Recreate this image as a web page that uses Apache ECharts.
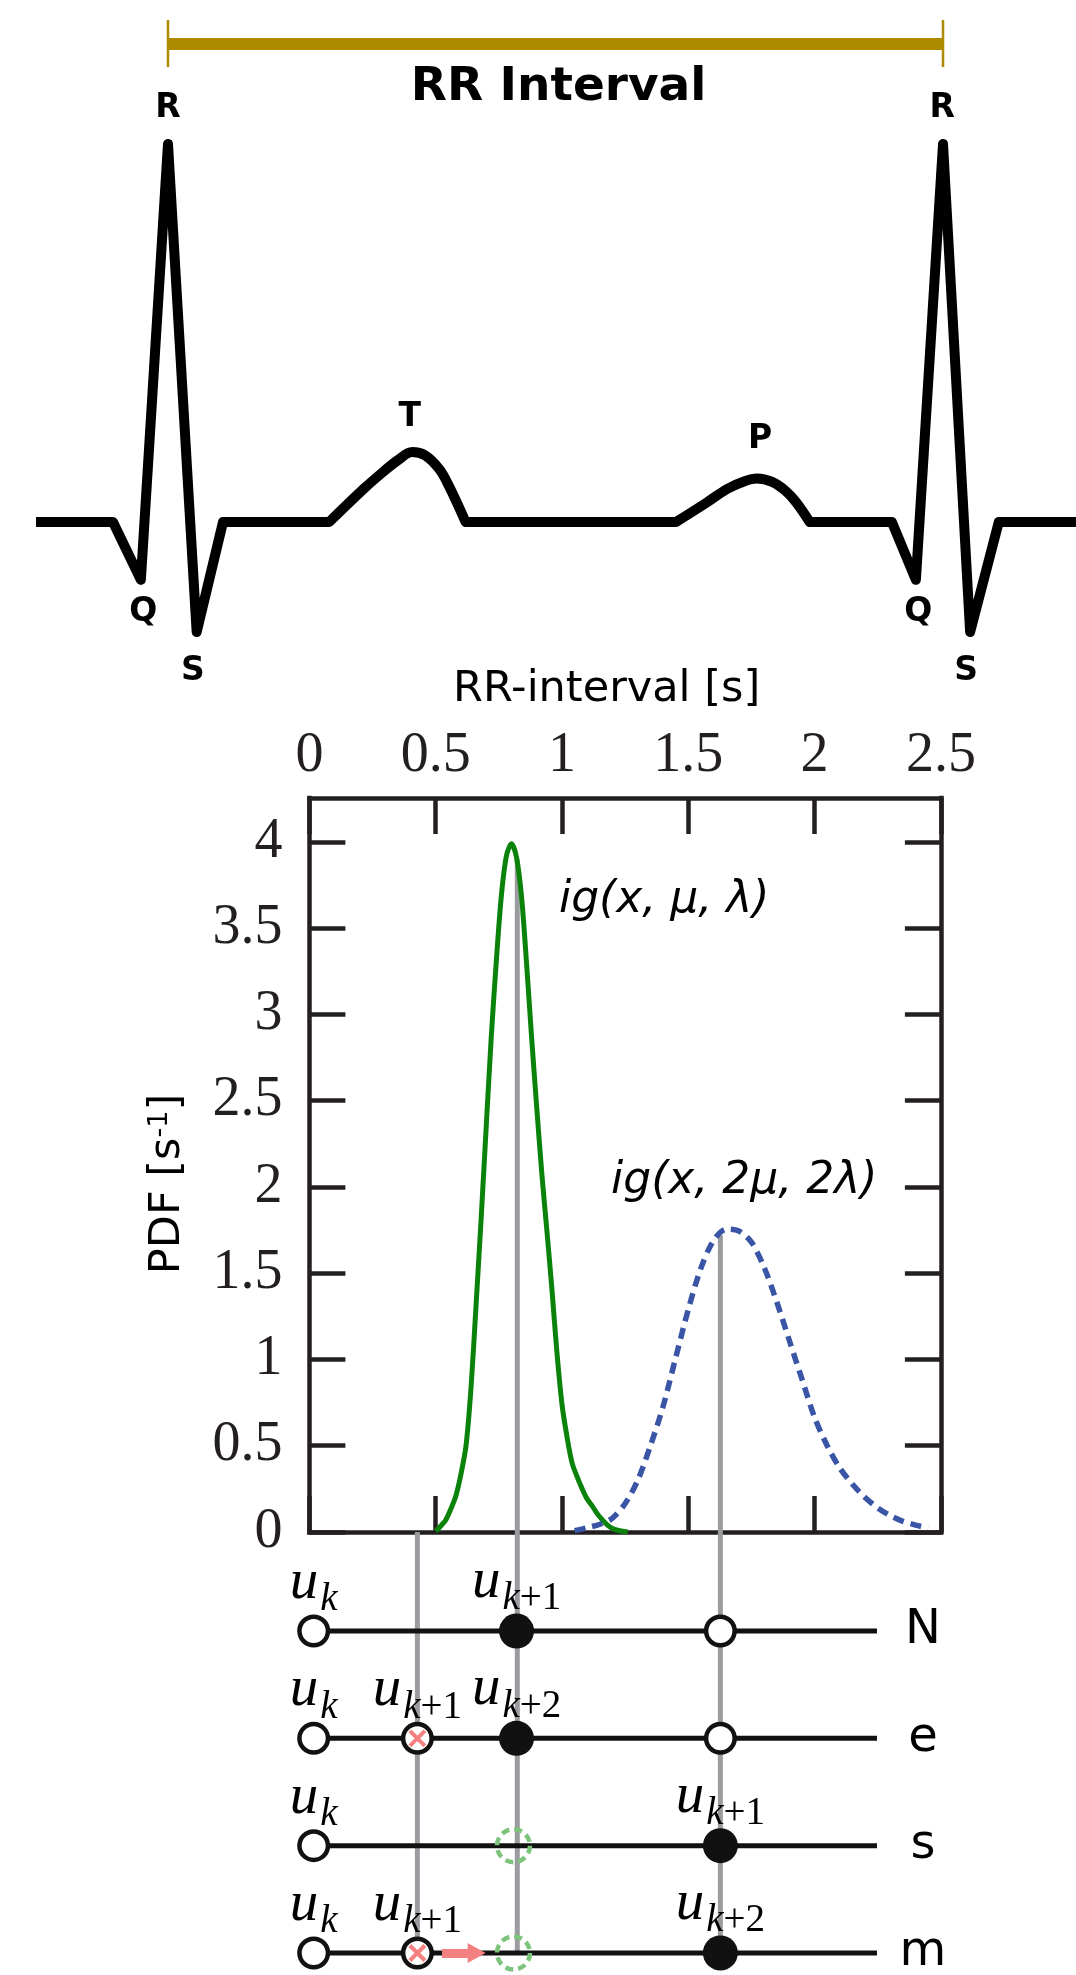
<!DOCTYPE html>
<html><head><meta charset="utf-8">
<script src="https://cdn.jsdelivr.net/npm/echarts@6/dist/echarts.min.js"></script>
<style>html,body{margin:0;padding:0;background:#fff}#c{width:1076px;height:1975px}</style>
</head><body><div id="c"></div>
<script>
// ---- ECG sketch (time in RR fractions, amplitude relative to R peak) ----
const ecgQrsT1 = [-0.1703, -0.071, -0.035, 0, 0.037, 0.071, 0.208];
const ecgQrsV1 = [0, 0, -0.153, 1.0, -0.291, 0, 0];
const ecgTwaveT = [0.208, 0.253, 0.279, 0.297, 0.315, 0.332, 0.350, 0.363, 0.384];
const ecgTwaveV = [0, 0.0886, 0.135, 0.164, 0.185, 0.176, 0.14, 0.093, 0];
const ecgMidT = [0.384, 0.6555];
const ecgMidV = [0, 0];
const ecgPwaveT = [0.6555, 0.6955, 0.722, 0.744, 0.760, 0.7795, 0.797, 0.8106, 0.828];
const ecgPwaveV = [0, 0.052, 0.088, 0.108, 0.115, 0.106, 0.082, 0.052, 0];
const ecgQrsT2 = [0.828, 0.934, 0.965, 1.0, 1.035, 1.072, 1.1716];
const ecgQrsV2 = [0, 0, -0.153, 1.0, -0.291, 0, 0];
const ecgLabels = ['R', 'Q', 'S', 'T', 'P', 'Q', 'S', 'R'];
const ecgLabelT = [0.0, -0.032, 0.032, 0.312, 0.764, 0.968, 1.030, 0.999];
const ecgLabelV = [1.093, -0.239, -0.394, 0.276, 0.218, -0.239, -0.394, 1.093];
const rrSpan = [0, 1];
const rrLevel = 1.2646;
const rrCap = [1.2037, 1.328];
const rrTitle = 'RR Interval';
const rrTitlePos = [0.504, 1.148];

// ---- PDF curves ----
const greenX = [0.50,0.52,0.54,0.56,0.58,0.60,0.62,0.64,0.66,0.68,0.70,0.72,0.74,0.76,0.78,0.80,0.82,0.84,0.86,0.88,0.90,0.92,0.94,0.96,0.98,1.00,1.02,1.04,1.06,1.08,1.10,1.12,1.14,1.16,1.18,1.20,1.22,1.24,1.26];
const greenY = [0.005,0.035,0.07,0.134,0.21,0.336,0.50,0.84,1.32,1.82,2.35,2.87,3.31,3.69,3.92,3.99,3.91,3.68,3.29,2.86,2.46,2.08,1.75,1.41,1.04,0.74,0.55,0.40,0.32,0.25,0.19,0.15,0.105,0.07,0.04,0.02,0.01,0.004,0.0];
const blueX = [1.05,1.10,1.15,1.20,1.25,1.30,1.35,1.40,1.45,1.50,1.55,1.60,1.65,1.70,1.75,1.80,1.85,1.90,1.95,2.00,2.05,2.10,2.15,2.20,2.25,2.30,2.35,2.40,2.45];
const blueY = [0.008,0.025,0.045,0.081,0.165,0.30,0.50,0.727,1.01,1.29,1.53,1.69,1.755,1.745,1.68,1.535,1.335,1.11,0.886,0.664,0.50,0.37,0.277,0.20,0.14,0.095,0.062,0.04,0.022];
const xTicks = [0, 0.5, 1, 1.5, 2, 2.5];
const yTicks = [0, 0.5, 1, 1.5, 2, 2.5, 3, 3.5, 4];
const curveNames = ['ig(x, μ, λ)', 'ig(x, 2μ, 2λ)'];
const curveNamePos = [[0.988, 3.66], [1.194, 2.03]];

// ---- vertical guides and event rows ----
const guideX = [0.4275, 0.823, 1.627];
const guideTop = [0, 3.9, 1.72];
const rowNames = ['N', 'e', 's', 'm'];
const rowStart = 0.017, rowEnd = 2.247, rowNameX = 2.429;
const rowNodes = [
  [[0.017, 'open', 'k'], [0.82, 'filled', 'k+1'], [1.627, 'open', '']],
  [[0.017, 'open', 'k'], [0.4275, 'cross', 'k+1'], [0.82, 'filled', 'k+2'], [1.627, 'open', '']],
  [[0.017, 'open', 'k'], [0.808, 'ghost', ''], [1.627, 'filled', 'k+1']],
  [[0.017, 'open', 'k'], [0.4275, 'cross', 'k+1'], [0.808, 'ghost', ''], [1.627, 'filled', 'k+2']]
];
const arrowRow = 3, arrowFrom = 0.525, arrowTo = 0.662;

// ---------------------------------------------------------------
const INK = '#231f20';
const axisCommon = {
  type: 'value', min: 0, max: 2.5, interval: 0.5, splitLine: { show: false },
  axisLine: { show: true, onZero: false, lineStyle: { color: INK, width: 4.5, cap: 'square' } },
  axisTick: { show: true, inside: true, length: 36, lineStyle: { color: INK, width: 4.5 } }
};
const serifLabel = { fontFamily: 'Liberation Serif', fontSize: 56, color: INK };

const series = [];
// ECG
const ecgLine = (ts, vs, smooth) => series.push({ type: 'line', xAxisIndex: 0, yAxisIndex: 0, data: ts.map((t, i) => [t, vs[i]]), symbol: 'none', silent: true,
  smooth: smooth ? 0.35 : false, lineStyle: { color: '#000', width: 10, join: 'round', cap: smooth ? 'round' : 'butt', opacity: 1 }, z: 3 });
ecgLine(ecgQrsT1, ecgQrsV1, false);
ecgLine(ecgTwaveT, ecgTwaveV, true);
ecgLine(ecgMidT, ecgMidV, false);
ecgLine(ecgPwaveT, ecgPwaveV, true);
ecgLine(ecgQrsT2, ecgQrsV2, false);
series.push({ type: 'line', xAxisIndex: 0, yAxisIndex: 0, data: rrSpan.map(t => [t, rrLevel]), symbol: 'none', silent: true,
  lineStyle: { color: '#ad8a00', width: 12 }, z: 3 });
rrSpan.forEach(t => series.push({ type: 'line', xAxisIndex: 0, yAxisIndex: 0, data: rrCap.map(v => [t, v]), symbol: 'none', silent: true,
  lineStyle: { color: '#ad8a00', width: 2.5 }, z: 3 }));
series.push({ type: 'scatter', xAxisIndex: 0, yAxisIndex: 0, symbolSize: 0, silent: true, z: 5, itemStyle: { opacity: 1 },
  data: ecgLabels.map((n, i) => ({ value: [ecgLabelT[i], ecgLabelV[i]], name: n })),
  label: { show: true, position: 'inside', formatter: '{b}', fontFamily: 'DejaVu Sans', fontWeight: 'bold', fontSize: 33, color: '#000', opacity: 1 } });
series.push({ type: 'scatter', xAxisIndex: 0, yAxisIndex: 0, symbolSize: 0, silent: true, z: 5, itemStyle: { opacity: 1 },
  data: [{ value: rrTitlePos, name: rrTitle }],
  label: { show: true, position: 'inside', formatter: '{b}', fontFamily: 'DejaVu Sans', fontWeight: 'bold', fontSize: 47, color: '#000', opacity: 1 } });

// PDF guides
guideX.forEach((gx, i) => {
  if (guideTop[i] > 0) series.push({ type: 'line', xAxisIndex: 1, yAxisIndex: 1, data: [[gx, 0], [gx, guideTop[i]]], symbol: 'none', silent: true,
    lineStyle: { color: '#9b9ca0', width: 5 }, z: 1 });
});
series.push({ type: 'line', xAxisIndex: 1, yAxisIndex: 1, data: greenX.map((x, i) => [x, greenY[i]]), symbol: 'none', smooth: 0.3, silent: true,
  lineStyle: { color: '#0b830b', width: 5 }, z: 3 });
series.push({ type: 'line', xAxisIndex: 1, yAxisIndex: 1, data: blueX.map((x, i) => [x, blueY[i]]), symbol: 'none', smooth: 0.3, silent: true,
  lineStyle: { color: '#3a54a6', width: 5.5, type: [11, 7] }, z: 3 });
series.push({ type: 'scatter', xAxisIndex: 1, yAxisIndex: 1, symbolSize: 0, silent: true, z: 5, itemStyle: { opacity: 1 },
  data: curveNames.map((n, i) => ({ value: curveNamePos[i], name: n })),
  label: { show: true, position: 'right', distance: 0, formatter: '{b}', fontFamily: 'DejaVu Sans', fontStyle: 'italic', fontSize: 44, color: '#000', opacity: 1 } });

// Bottom diagram
const rTop = -0.9224;
guideX.forEach(gx => series.push({ type: 'line', xAxisIndex: 3, yAxisIndex: 3, data: [[gx, rTop], [gx, 3]], symbol: 'none', silent: true,
  lineStyle: { color: '#9b9ca0', width: 5 }, z: 1 }));
rowNames.forEach((n, r) => {
  const s = { type: 'line', xAxisIndex: 3, yAxisIndex: 3, data: [[rowStart, r], [rowEnd, r]], symbol: 'none', silent: true,
    lineStyle: { color: '#111', width: 5 }, z: 2 };
  if (r === arrowRow) {
    s.markLine = { silent: true, symbol: ['none', 'triangle'], symbolSize: [20, 18], label: { show: false },
      lineStyle: { color: '#f4807f', width: 9, type: 'solid', opacity: 1 },
      data: [[{ coord: [arrowFrom, arrowRow] }, { coord: [arrowTo, arrowRow] }]] };
  }
  series.push(s);
});
const subLabel = {
  show: true, position: 'top', distance: -5, opacity: 1,
  formatter: p => { const s = p.data.sub; if (!s) return ''; return '{u|u}{i|k}' + (s.length > 1 ? '{n|' + s.slice(1) + '}' : ''); },
  rich: {
    u: { fontFamily: 'Liberation Serif', fontStyle: 'italic', fontSize: 57, lineHeight: 57, padding: [0, 2, 8, 0], verticalAlign: 'bottom', color: '#000' },
    i: { fontFamily: 'Liberation Serif', fontStyle: 'italic', fontSize: 39, lineHeight: 39, verticalAlign: 'bottom', color: '#000' },
    n: { fontFamily: 'Liberation Serif', fontSize: 39, lineHeight: 39, verticalAlign: 'bottom', color: '#000' }
  }
};
const kindStyle = {
  open: { symbolSize: 28.5, itemStyle: { color: '#fff', borderColor: '#111', borderWidth: 4.5, opacity: 1 } },
  cross: { symbolSize: 28.5, itemStyle: { color: '#fff', borderColor: '#111', borderWidth: 4.5, opacity: 1 } },
  filled: { symbolSize: 35, itemStyle: { color: '#111', borderWidth: 0, opacity: 1 } },
  ghost: { symbolSize: 33, itemStyle: { color: 'rgba(0,0,0,0)', borderColor: '#7cc47c', borderWidth: 4.5, borderType: [8, 5], opacity: 1 } }
};
Object.keys(kindStyle).forEach(kind => {
  const data = [];
  rowNodes.forEach((nodes, r) => nodes.forEach(nd => { if (nd[1] === kind) data.push({ value: [nd[0], r], sub: nd[2] }); }));
  series.push(Object.assign({ type: 'scatter', xAxisIndex: 3, yAxisIndex: 3, symbol: 'circle', silent: true, z: 4, data, label: subLabel }, kindStyle[kind]));
});
const crossData = [];
rowNodes.forEach((nodes, r) => nodes.forEach(nd => { if (nd[1] === 'cross') crossData.push([nd[0], r]); }));
series.push({ type: 'scatter', xAxisIndex: 3, yAxisIndex: 3, silent: true, z: 6, data: crossData,
  symbol: 'path://M0,0L10,10M10,0L0,10', symbolSize: 15,
  itemStyle: { color: 'rgba(0,0,0,0)', borderColor: '#f4807f', borderWidth: 4, opacity: 1 } });
series.push({ type: 'scatter', xAxisIndex: 3, yAxisIndex: 3, symbolSize: 0, silent: true, z: 5, itemStyle: { opacity: 1 },
  data: rowNames.map((n, r) => ({ value: [rowNameX, r], name: n })),
  label: { show: true, position: 'inside', formatter: '{b}', fontFamily: 'DejaVu Sans', fontSize: 48, color: '#000', opacity: 1 } });

const option = {
  animation: false,
  backgroundColor: '#fff',
  grid: [
    { left: 36, top: 0, width: 1040, height: 700, outerBoundsMode: 'none' },
    { left: 309.4, top: 798, width: 631.5, height: 734, outerBoundsMode: 'none' },
    { left: 309.4, top: 1532, width: 631.5, height: 443, outerBoundsMode: 'none' }
  ],
  xAxis: [
    { type: 'value', gridIndex: 0, min: -0.1703, max: 1.1716, show: false },
    Object.assign({}, axisCommon, { gridIndex: 1, position: 'top',
      axisLabel: Object.assign({ show: true, margin: 14, showMinLabel: true, showMaxLabel: true }, serifLabel),
      name: 'RR-interval [s]', nameLocation: 'middle', nameGap: 87,
      nameTextStyle: { fontFamily: 'DejaVu Sans', fontSize: 43, color: '#000', padding: [0, 37, 0, 0] } }),
    Object.assign({}, axisCommon, { gridIndex: 1, position: 'bottom', axisLabel: { show: false } }),
    { type: 'value', gridIndex: 2, min: 0, max: 2.5, show: false }
  ],
  yAxis: [
    { type: 'value', gridIndex: 0, min: -0.4709, max: 1.38095, show: false },
    Object.assign({}, axisCommon, { gridIndex: 1, position: 'left', min: 0, max: 4.255, interval: 0.5,
      axisTick: Object.assign({}, axisCommon.axisTick, { customValues: yTicks }),
      axisLabel: Object.assign({ show: true, margin: 27, customValues: yTicks, formatter: v => (v > 4.1 ? '' : String(v)) }, serifLabel),
      name: 'PDF [s{sup|-1}]', nameLocation: 'middle', nameRotate: 90, nameGap: 120,
      nameTextStyle: { fontFamily: 'DejaVu Sans', fontSize: 43, color: '#000', padding: [0, 38, 0, 0],
        rich: { sup: { fontFamily: 'DejaVu Sans', fontSize: 27, lineHeight: 27, padding: [0, 0, 16, 0], color: '#000' } } } }),
    Object.assign({}, axisCommon, { gridIndex: 1, position: 'right', min: 0, max: 4.255, interval: 0.5,
      axisTick: Object.assign({}, axisCommon.axisTick, { customValues: yTicks }),
      axisLabel: { show: false } }),
    { type: 'value', gridIndex: 2, min: rTop, max: 3.205, inverse: true, show: false }
  ],
  series
};
const chart = echarts.init(document.getElementById('c'), null, { renderer: 'canvas' });
chart.setOption(option);
</script></body></html>
